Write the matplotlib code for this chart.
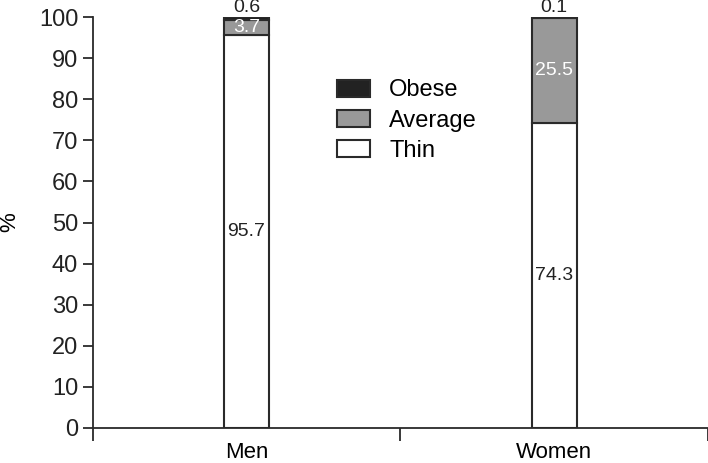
import matplotlib.pyplot as plt
import numpy as np

plt.rcParams['font.family'] = ['Liberation Sans', 'DejaVu Sans']

# Data
groups = ['Men', 'Women']
thin = [95.7, 74.3]
average = [3.7, 25.5]
obese = [0.6, 0.1]

x = np.array([0.5, 1.5])
w = 0.146
edge = '#2a2a2a'

fig = plt.figure(figsize=(7.08, 4.63), dpi=100)
ax = fig.add_axes([0.131, 0.0756, 0.869, 0.8874])

ax.bar(x, thin, w, color='white', edgecolor=edge, linewidth=1.5, label='Thin')
ax.bar(x, average, w, bottom=thin, color='#999999', edgecolor=edge, linewidth=1.5, label='Average')
bot2 = np.array(thin) + np.array(average)
ax.bar(x, obese, w, bottom=bot2, color='#222222', edgecolor=edge, linewidth=1.5, label='Obese')

# Value labels
for i in range(len(x)):
    ax.text(x[i], thin[i] / 2, f'{thin[i]}', ha='center', va='center', fontsize=14, color='#222222')
    ax.text(x[i], thin[i] + average[i] / 2, f'{average[i]}', ha='center', va='center', fontsize=14, color='white')
    ax.text(x[i], 100.3, f'{obese[i]}', ha='center', va='bottom', fontsize=14, color='#222222')

ax.set_xlim(0, 2)
ax.set_ylim(0, 100)
ax.set_yticks(range(0, 101, 10))
ax.set_xticks([0, 1, 2])
ax.set_xticklabels([])
ax.set_xticks(x, minor=True)
ax.set_xticklabels(groups, minor=True, fontsize=16)
ax.tick_params(axis='x', which='minor', length=0, pad=10)
ax.tick_params(axis='x', which='major', length=9, width=1.3, colors=edge)
ax.tick_params(axis='y', length=7, width=1.3, labelsize=17, colors=edge, labelcolor='#222222')
ax.spines['top'].set_visible(False)
ax.spines['right'].set_visible(False)
ax.spines['left'].set_linewidth(1.3)
ax.spines['bottom'].set_linewidth(1.3)
ax.spines['left'].set_color(edge)
ax.spines['bottom'].set_color(edge)
ax.set_ylabel('%', fontsize=16)
ax.yaxis.set_label_coords(-0.118, 0.5)

h, l = ax.get_legend_handles_labels()
ax.legend(h[::-1], l[::-1], loc='upper left', bbox_to_anchor=(0.363, 0.9), frameon=False,
          fontsize=17, handlelength=1.4, handleheight=0.75, labelspacing=0.35, handletextpad=0.8)

fig.savefig('out.png', dpi=100)
